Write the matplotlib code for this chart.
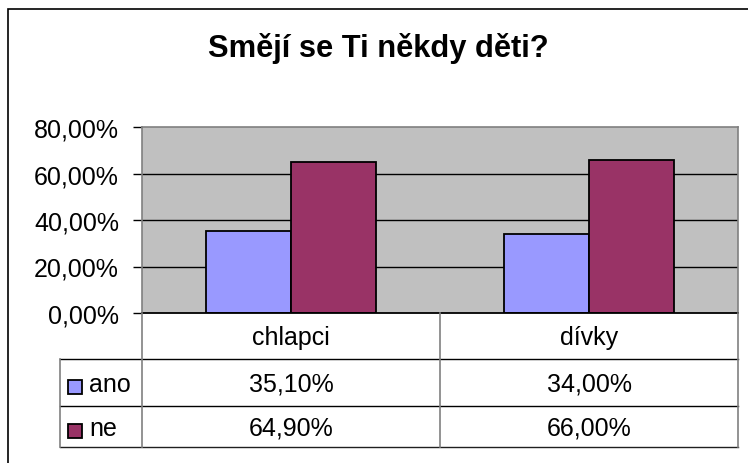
import matplotlib
matplotlib.use("Agg")
import matplotlib.pyplot as plt
from matplotlib.patches import Rectangle
from matplotlib.lines import Line2D

title = "Smějí se Ti někdy děti?"
categories = ["chlapci", "dívky"]
series_names = ["ano", "ne"]
ano = [35.10, 34.00]
ne = [64.90, 66.00]
series_values = [ano, ne]
yticks = [0, 20, 40, 60, 80]
colors = ["#9999FF", "#993366"]

plt.rcParams['font.family'] = ['Liberation Sans', 'DejaVu Sans']

W, H = 748, 464
fig = plt.figure(figsize=(W / 100, H / 100), dpi=100)

def fx(px):
    return px / W

def fy(py):
    return 1 - py / H

# outer chart border (only left/top visible)
fig.add_artist(Rectangle((fx(8), fy(470)), fx(760) - fx(8), fy(10) - fy(470),
                         transform=fig.transFigure, fill=False, edgecolor='black', lw=1.2))

fig.text(fx(378), fy(48), title, ha='center', va='center', fontsize=22.2, fontweight='bold')

L, R, T, B = 142, 738, 128, 314
ax = fig.add_axes([fx(L), fy(B), fx(R) - fx(L), fy(T) - fy(B)])
ax.set_facecolor('#C0C0C0')
n = len(categories)
bw = 0.285
xs = list(range(n))
for i, (name, vals) in enumerate(zip(series_names, series_values)):
    off = (i - 0.5) * bw
    ax.bar([x + off for x in xs], vals, width=bw, color=colors[i], edgecolor='black',
           linewidth=1.3, zorder=3)
ax.set_xlim(-0.5, n - 0.5)
ax.set_ylim(0, 80)
ax.set_yticks(yticks)
ax.set_yticklabels([f"{v:.2f}".replace('.', ',') + "%" for v in yticks], fontsize=18)
ax.set_xticks([])
for v in yticks[1:-1]:
    ax.axhline(v, color='black', lw=1.0, zorder=1)
ax.tick_params(axis='y', length=6.5, width=1, pad=10)
for s in ['top', 'right', 'left']:
    ax.spines[s].set_color('#808080')
    ax.spines[s].set_linewidth(1.2)
ax.spines['bottom'].set_color('black')
ax.spines['bottom'].set_linewidth(1.3)
ax.spines['bottom'].set_zorder(5)

# data table below
TL = 60
rows_y = [314, 360, 407, 448]
col_x = [L, 440, R]

def hline(x0, x1, y, c='black', lw=1.0):
    fig.add_artist(Line2D([fx(x0), fx(x1)], [fy(y), fy(y)], transform=fig.transFigure, color=c, lw=lw))

def vline(x, y0, y1, c='#808080', lw=1.2):
    fig.add_artist(Line2D([fx(x), fx(x)], [fy(y0), fy(y1)], transform=fig.transFigure, color=c, lw=lw))

hline(TL, R, rows_y[1])
hline(TL, R, rows_y[2])
hline(TL, R, rows_y[3], c='#202020')
vline(TL, rows_y[1], rows_y[3])
for cx in col_x:
    vline(cx, rows_y[0], rows_y[3])

fs = 18
for j, cat in enumerate(categories):
    cx = (col_x[j] + col_x[j + 1]) / 2
    fig.text(fx(cx), fy((rows_y[0] + rows_y[1]) / 2 + 1), cat, ha='center', va='center', fontsize=fs)
    for i, vals in enumerate(series_values):
        cy = (rows_y[i + 1] + rows_y[i + 2]) / 2 + 1
        fig.text(fx(cx), fy(cy), f"{vals[j]:.2f}".replace('.', ',') + "%", ha='center', va='center', fontsize=fs)

for i, name in enumerate(series_names):
    cy = (rows_y[i + 1] + rows_y[i + 2]) / 2
    fig.add_artist(Rectangle((fx(68), fy(cy + 11)), fx(14), fy(0) - fy(14), transform=fig.transFigure,
                             facecolor=colors[i], edgecolor='black', lw=1.3))
    fig.text(fx(89), fy(cy + 2), name, ha='left', va='center', fontsize=fs)

fig.savefig("out.png", dpi=100)
